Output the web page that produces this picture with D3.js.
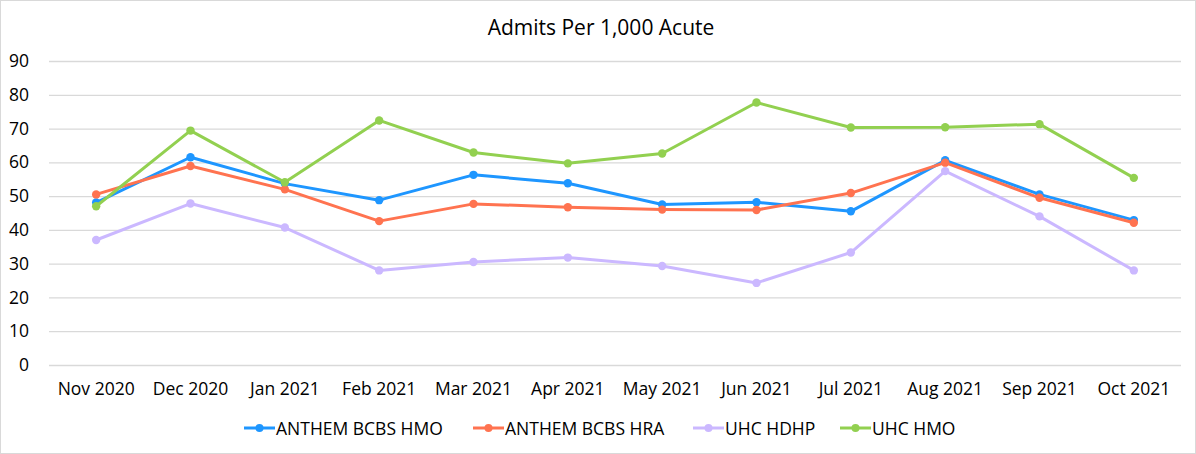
<!DOCTYPE html>
<html>
<head>
<meta charset="utf-8">
<script src="https://cdn.jsdelivr.net/npm/d3@7"></script>
<style>
  body { margin: 0; background: #fff; }
  text { font-family: "Open Sans", sans-serif; fill: #000; }
</style>
</head>
<body>
<script>
var canvasWidth = 1196;
var canvasHeight = 454;
var margin = { top: 61, right: 15, bottom: 89, left: 49 };

var months = ["Nov 2020", "Dec 2020", "Jan 2021", "Feb 2021", "Mar 2021", "Apr 2021",
              "May 2021", "Jun 2021", "Jul 2021", "Aug 2021", "Sep 2021", "Oct 2021"];
var seriesNames = ["ANTHEM BCBS HMO", "ANTHEM BCBS HRA", "UHC HDHP", "UHC HMO"];
var seriesColors = ["#1e96ff", "#ff7350", "#cbb8ff", "#92d050"];
var yTicks = [0, 10, 20, 30, 40, 50, 60, 70, 80, 90];

var anthemHmo = [48.1, 61.5, 53.7, 48.8, 56.3, 53.8, 47.5, 48.2, 45.5, 60.6, 50.5, 42.9];
var anthemHra = [50.5, 58.9, 52.0, 42.6, 47.7, 46.7, 46.0, 45.9, 50.9, 59.9, 49.5, 42.1];
var uhcHdhp   = [37.0, 47.8, 40.7, 28.0, 30.5, 31.8, 29.3, 24.3, 33.3, 57.4, 44.0, 28.0];
var uhcHmo    = [47.0, 69.4, 54.1, 72.4, 62.9, 59.7, 62.6, 77.7, 70.3, 70.4, 71.3, 55.4];

var allSeries = [anthemHmo, anthemHra, uhcHdhp, uhcHmo];

var svg = d3.select("body").append("svg")
    .attr("width", canvasWidth)
    .attr("height", canvasHeight);

// chart border
svg.append("rect")
    .attr("x", 0.5).attr("y", 0.5)
    .attr("width", canvasWidth - 1).attr("height", canvasHeight - 1)
    .attr("fill", "none")
    .attr("stroke", "#d9d9d9");

var width = canvasWidth - margin.left - margin.right;
var height = canvasHeight - margin.top - margin.bottom;

svg.append("text")
    .attr("x", 601)
    .attr("y", 35)
    .attr("text-anchor", "middle")
    .attr("font-size", "21px")
    .text("Admits Per 1,000 Acute");

var xScale = d3.scaleBand().domain(months).range([0, width]);
var yScale = d3.scaleLinear().domain([0, 90]).range([height, 0]);

var g = svg.append("g")
    .attr("transform", "translate(" + margin.left + ", " + margin.top + ")");

// gridlines
g.append("g")
    .call(d3.axisLeft(yScale).tickValues(yTicks).tickSize(-width).tickFormat(""))
    .call(a => a.select(".domain").remove())
    .selectAll("line")
    .attr("stroke", "#d9d9d9")
    .attr("stroke-width", 1.3);

// y labels
g.append("g")
    .call(d3.axisLeft(yScale).tickValues(yTicks).tickSize(0).tickPadding(20))
    .call(a => a.select(".domain").remove())
    .selectAll("text")
    .attr("font-size", "17.5px")
    .attr("font-family", "Open Sans, sans-serif")
    .attr("fill", "#000");

// x labels
g.append("g")
    .attr("transform", "translate(0, " + height + ")")
    .call(d3.axisBottom(xScale).tickSize(0).tickPadding(18))
    .call(a => a.select(".domain").remove())
    .selectAll("text")
    .attr("font-size", "17.5px")
    .attr("font-family", "Open Sans, sans-serif")
    .attr("fill", "#000");

var line = d3.line()
    .x((d, i) => xScale(months[i]) + xScale.bandwidth() / 2)
    .y(d => yScale(d));

allSeries.forEach(function(values, k) {
    g.append("path")
        .datum(values)
        .attr("d", line)
        .attr("fill", "none")
        .attr("stroke", seriesColors[k])
        .attr("stroke-width", 3)
        .attr("stroke-linejoin", "round");
    g.selectAll(".dot" + k).data(values)
        .enter().append("circle")
        .attr("cx", (d, i) => xScale(months[i]) + xScale.bandwidth() / 2)
        .attr("cy", d => yScale(d))
        .attr("r", 4.2)
        .attr("fill", seriesColors[k]);
});

// legend
var legendX = [244, 473, 693, 840];
for (var i = 0; i < seriesNames.length; i++) {
    var lg = svg.append("g").attr("transform", "translate(" + legendX[i] + ", 428)");
    lg.append("line")
        .attr("x1", 0).attr("x2", 31)
        .attr("stroke", seriesColors[i])
        .attr("stroke-width", 3);
    lg.append("circle")
        .attr("cx", 15.5).attr("r", 4)
        .attr("fill", seriesColors[i]);
    lg.append("text")
        .attr("x", 32)
        .attr("y", 6.5)
        .attr("font-size", "17.5px")
        .text(seriesNames[i]);
}
</script>
</body>
</html>
